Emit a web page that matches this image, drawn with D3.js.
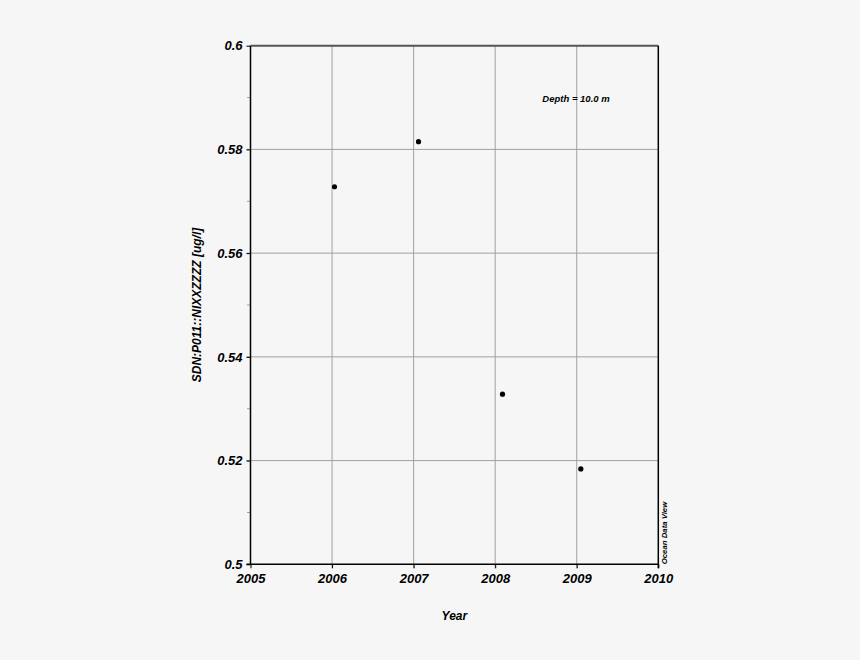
<!DOCTYPE html>
<html>
<head>
<meta charset="utf-8">
<script src="https://cdn.jsdelivr.net/npm/d3@7/dist/d3.min.js"></script>
<style>
  html, body { margin: 0; padding: 0; background: #f6f6f6; }
  svg { display: block; }
  text { font-family: "Liberation Sans", Arial, Helvetica, sans-serif; font-style: italic; font-weight: bold; fill: #000; }
</style>
</head>
<body>
<script>
// Data (year as decimal, value in ug/l)
const years = [2006.03, 2007.06, 2008.09, 2009.05];
const values = [0.5728, 0.5815, 0.5328, 0.5184];
const xTicks = [2005, 2006, 2007, 2008, 2009, 2010];
const yTicks = [0.5, 0.52, 0.54, 0.56, 0.58, 0.6];
const yMinorTicks = [0.51, 0.53, 0.55, 0.57, 0.59];
const xTitle = "Year";
const yTitle = "SDN:P011::NIXXZZZZ [ug/l]";
const annotation = "Depth = 10.0 m";
const watermark = "Ocean Data View";

const W = 860, H = 660;
const L = 250.5, R = 658.3, T = 45.7, B = 564.3;

const svg = d3.select("body").append("svg").attr("width", W).attr("height", H);
svg.append("rect").attr("width", W).attr("height", H).attr("fill", "#f6f6f6");

const x = d3.scaleLinear().domain([2005, 2010]).range([L, R]);
const y = d3.scaleLinear().domain([0.5, 0.6]).range([B, T]);

// Gridlines (extend slightly beyond axis as ticks)
const grid = svg.append("g").attr("stroke", "#a0a0a0").attr("stroke-width", 1);
grid.selectAll("line.vx").data(xTicks.slice(1, -1)).join("line")
  .attr("x1", d => x(d)).attr("x2", d => x(d))
  .attr("y1", T).attr("y2", B + 4);
grid.selectAll("line.hy").data(yTicks.slice(1, -1)).join("line")
  .attr("x1", L - 4).attr("x2", R)
  .attr("y1", d => y(d)).attr("y2", d => y(d));

// Minor y ticks
svg.append("g").attr("stroke", "#a0a0a0").attr("stroke-width", 1)
  .selectAll("line").data(yMinorTicks).join("line")
  .attr("x1", L - 3.5).attr("x2", L)
  .attr("y1", d => y(d)).attr("y2", d => y(d));

// Axes via d3 (labels only, lines drawn as frame)
const xAxis = d3.axisBottom(x).tickValues(xTicks).tickFormat(d3.format("d")).tickSize(4).tickPadding(3);
const gx = svg.append("g").attr("transform", `translate(0,${B})`).call(xAxis);
gx.select(".domain").remove();
gx.selectAll(".tick line").attr("stroke", "#000");
gx.selectAll(".tick text").attr("font-size", 13).attr("font-family", null).attr("fill", "#000").attr("dy", "0.9em");

const yAxis = d3.axisLeft(y).tickValues(yTicks).tickFormat(d => d3.format("")(+d.toFixed(2))).tickSize(4).tickPadding(4);
const gy = svg.append("g").attr("transform", `translate(${L},0)`).call(yAxis);
gy.select(".domain").remove();
gy.selectAll(".tick line").attr("stroke", "#000");
gy.selectAll(".tick text").attr("font-size", 13).attr("font-family", null).attr("fill", "#000");

// Frame
svg.append("line").attr("x1", L).attr("x2", R).attr("y1", T).attr("y2", T).attr("stroke", "#555").attr("stroke-width", 2);
svg.append("line").attr("x1", L).attr("x2", L).attr("y1", T).attr("y2", B).attr("stroke", "#000").attr("stroke-width", 1.5);
svg.append("line").attr("x1", R).attr("x2", R).attr("y1", T).attr("y2", B + 4).attr("stroke", "#000").attr("stroke-width", 1.5);
svg.append("line").attr("x1", L - 4).attr("x2", R).attr("y1", B).attr("y2", B).attr("stroke", "#000").attr("stroke-width", 1.5);

// Points
svg.append("g").selectAll("circle").data(years.map((d, i) => [d, values[i]])).join("circle")
  .attr("cx", d => x(d[0])).attr("cy", d => y(d[1])).attr("r", 2.6).attr("fill", "#000");

// Titles
svg.append("text").attr("x", (L + R) / 2).attr("y", 620).attr("text-anchor", "middle")
  .attr("font-size", 12).text(xTitle);
svg.append("text").attr("transform", `translate(201,${(T + B) / 2}) rotate(-90)`).attr("text-anchor", "middle")
  .attr("font-size", 12).text(yTitle);
svg.append("text").attr("x", 576).attr("y", 102).attr("text-anchor", "middle")
  .attr("font-size", 9.5).attr("font-weight", "normal").text(annotation);
svg.append("text").attr("transform", `translate(667,${B}) rotate(-90)`).attr("text-anchor", "start")
  .attr("font-size", 7.8).text(watermark);
</script>
</body>
</html>
